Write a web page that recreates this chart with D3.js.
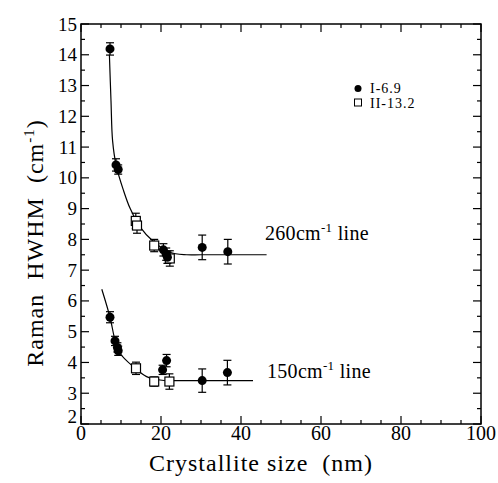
<!DOCTYPE html>
<html>
<head>
<meta charset="utf-8">
<title>Raman HWHM vs crystallite size</title>
<script src="https://cdnjs.cloudflare.com/ajax/libs/d3/7.8.5/d3.min.js"></script>
<style>
  body { margin: 0; background: #fff; }
</style>
</head>
<body>
<div id="chart"></div>
<script>
// data: [size nm, HWHM, error]
const hi_I = [[7.25, 14.19, 0.2], [8.75, 10.42, 0.2], [9.3, 10.27, 0.15], [20.6, 7.66, 0.2], [21.3, 7.52, 0.2], [21.6, 7.42, 0.2], [30.3, 7.74, 0.4], [36.7, 7.6, 0.4]];
const hi_II = [[13.7, 8.6, 0.25], [14.0, 8.45, 0.25], [18.3, 7.8, 0.2], [22.2, 7.38, 0.25]];
const lo_I = [[7.25, 5.47, 0.18], [8.5, 4.7, 0.15], [9.1, 4.49, 0.15], [9.3, 4.38, 0.15], [20.4, 3.76, 0.15], [21.4, 4.06, 0.2], [30.3, 3.41, 0.38], [36.6, 3.67, 0.4]];
const lo_II = [[13.75, 3.81, 0.2], [18.3, 3.38, 0.15], [22.1, 3.38, 0.25]];

// fitted curves, traced
const fit260 = [[7.1, 14.0], [7.5, 12.5], [7.9, 11.2], [8.8, 10.4], [10.6, 9.6], [12.3, 9.0], [14.8, 8.4], [18.1, 7.93], [22.2, 7.58], [26.4, 7.5], [30, 7.5], [46.4, 7.5]];
const fit150 = [[5.2, 6.38], [7.25, 5.47], [8.5, 4.73], [9.75, 4.3], [13.1, 3.86], [16.4, 3.54], [19.75, 3.43], [23, 3.41], [27, 3.41], [43, 3.41]];

const xTicks = [0, 20, 40, 60, 80, 100];
const yTicks = [2, 3, 4, 5, 6, 7, 8, 9, 10, 11, 12, 13, 14, 15];

const width = 498, height = 483;
const margin = { top: 24, right: 17, bottom: 59, left: 81 };
const serif = "'Liberation Serif', 'DejaVu Serif', serif";

const svg = d3.select("#chart").append("svg")
    .attr("width", width)
    .attr("height", height)
    .attr("font-family", serif);

const x = d3.scaleLinear().domain([0, 100]).range([margin.left, width - margin.right]);
const y = d3.scaleLinear().domain([2, 15]).range([height - margin.bottom, margin.top]);

// frame
svg.append("rect")
    .attr("x", x(0)).attr("y", y(15))
    .attr("width", x(100) - x(0)).attr("height", y(2) - y(15))
    .attr("fill", "none").attr("stroke", "#000").attr("stroke-width", 1.5);

// inward ticks on all four sides
const xMinor = d3.range(0, 101, 5);
const yMinor = d3.range(2, 15.01, 0.5);
const tk = svg.append("g").attr("stroke", "#000").attr("stroke-width", 1.2);
xMinor.forEach(v => {
    const len = v % 20 === 0 ? 8 : 4;
    tk.append("line").attr("x1", x(v)).attr("x2", x(v)).attr("y1", y(2)).attr("y2", y(2) - len);
    tk.append("line").attr("x1", x(v)).attr("x2", x(v)).attr("y1", y(15)).attr("y2", y(15) + len);
});
yMinor.forEach(v => {
    const len = Math.abs(v - Math.round(v)) < 1e-6 ? 8 : 4;
    tk.append("line").attr("y1", y(v)).attr("y2", y(v)).attr("x1", x(0)).attr("x2", x(0) + len);
    tk.append("line").attr("y1", y(v)).attr("y2", y(v)).attr("x1", x(100)).attr("x2", x(100) - len);
});

// tick labels
svg.append("g").selectAll("text").data(xTicks).join("text")
    .attr("x", d => x(d)).attr("y", y(2) + 16)
    .attr("text-anchor", "middle")
    .attr("font-family", serif)
    .style("font-size", "20px")
    .text(d => d);

svg.append("g").selectAll("text").data(yTicks).join("text")
    .attr("x", x(0) - 4).attr("y", d => y(d) + (d === 2 ? -1 : 6.5))
    .attr("text-anchor", "end")
    .attr("font-family", serif)
    .style("font-size", "19px")
    .text(d => d);

// axis titles
svg.append("text")
    .attr("x", x(45)).attr("y", 471)
    .attr("text-anchor", "middle")
    .attr("font-family", serif)
    .style("font-size", "24px")
    .style("letter-spacing", "1px")
    .attr("xml:space", "preserve")
    .text("Crystallite size  (nm)");

const yt = svg.append("text")
    .attr("transform", "translate(43,243) rotate(-90)")
    .attr("text-anchor", "middle")
    .attr("font-family", serif)
    .style("font-size", "24px")
    .style("letter-spacing", "1px")
    .attr("xml:space", "preserve");
yt.append("tspan").text("Raman  HWHM  (cm");
yt.append("tspan").attr("dy", -9).style("font-size", "15px").text("-1");
yt.append("tspan").attr("dy", 9).text(")");

// fit lines
const line = d3.line().x(d => x(d[0])).y(d => y(d[1])).curve(d3.curveCatmullRom.alpha(0.5));
[fit260, fit150].forEach(f => {
    svg.append("path").attr("d", line(f))
        .attr("fill", "none").attr("stroke", "#000").attr("stroke-width", 1.2);
});

// error bars
function errorBars(data) {
    const g = svg.append("g").attr("stroke", "#000").attr("stroke-width", 1.2);
    data.forEach(d => {
        const cx = x(d[0]), t = y(d[1] + d[2]), b = y(d[1] - d[2]);
        g.append("line").attr("x1", cx).attr("x2", cx).attr("y1", t).attr("y2", b);
        g.append("line").attr("x1", cx - 4).attr("x2", cx + 4).attr("y1", t).attr("y2", t);
        g.append("line").attr("x1", cx - 4).attr("x2", cx + 4).attr("y1", b).attr("y2", b);
    });
}
[hi_I, hi_II, lo_I, lo_II].forEach(errorBars);

function squares(data) {
    svg.append("g").selectAll("rect").data(data).join("rect")
        .attr("x", d => x(d[0]) - 4.5).attr("y", d => y(d[1]) - 4.5)
        .attr("width", 9).attr("height", 9)
        .attr("fill", "#fff").attr("stroke", "#000").attr("stroke-width", 1.2);
}
function dots(data) {
    svg.append("g").selectAll("circle").data(data).join("circle")
        .attr("cx", d => x(d[0])).attr("cy", d => y(d[1]))
        .attr("r", 4.5).attr("fill", "#000");
}
squares(hi_II); squares(lo_II);
dots(hi_I); dots(lo_I);

// line labels
function lineLabel(num, lx, ly) {
    const t = svg.append("text").attr("x", lx).attr("y", ly)
        .attr("font-family", serif).style("font-size", "20px")
        .style("letter-spacing", "0.3px");
    t.append("tspan").text(num + "cm");
    t.append("tspan").attr("dy", -8).style("font-size", "13px").text("-1");
    t.append("tspan").attr("dy", 8).text(" line");
}
lineLabel("260", 265, 240);
lineLabel("150", 267, 378);

// legend
svg.append("circle").attr("cx", 358).attr("cy", 88.5).attr("r", 3.5).attr("fill", "#000");
svg.append("rect").attr("x", 354.5).attr("y", 99).attr("width", 7).attr("height", 7)
    .attr("fill", "#fff").attr("stroke", "#000").attr("stroke-width", 1);
svg.append("text").attr("x", 370).attr("y", 93).attr("font-family", serif)
    .style("font-size", "14px").style("letter-spacing", "1px").text("I-6.9");
svg.append("text").attr("x", 370).attr("y", 108).attr("font-family", serif)
    .style("font-size", "14px").style("letter-spacing", "1px").text("II-13.2");
</script>
</body>
</html>
